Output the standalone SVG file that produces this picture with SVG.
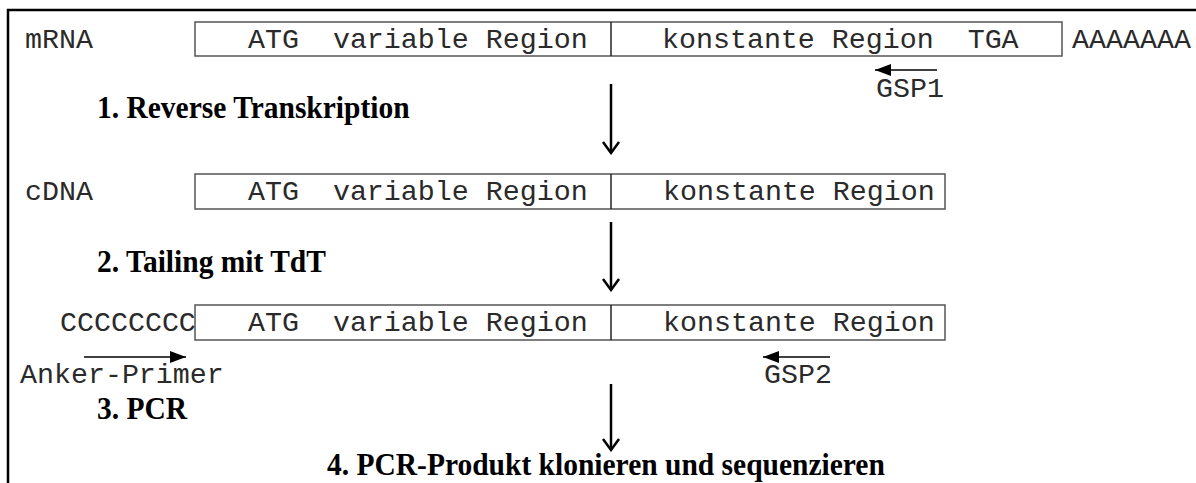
<svg xmlns="http://www.w3.org/2000/svg" width="1196" height="483" viewBox="0 0 1196 483">
  <style>
    .mono { font-family: "Liberation Mono", "Courier New", monospace; font-size: 28.3px; fill: #2a2a2a; }
    .bold { font-family: "Liberation Serif", "Times New Roman", serif; font-size: 29.5px; font-weight: bold; fill: #000; }
    .box { fill: none; stroke: #555; stroke-width: 1.5; }
    .div { stroke: #222; stroke-width: 1.5; }
    .flow { stroke: #000; stroke-width: 2.5; fill: none; }
    .primer { stroke: #000; stroke-width: 1.5; fill: none; }
  </style>
  <defs>
    <marker id="vhead" viewBox="0 0 14 20" refX="12" refY="10" markerUnits="userSpaceOnUse" markerWidth="14" markerHeight="20" orient="auto">
      <path d="M1,2 L12,10 L1,18" fill="none" stroke="#000" stroke-width="2.5"/>
    </marker>
    <marker id="tri" viewBox="0 0 16 12" refX="16" refY="6" markerUnits="userSpaceOnUse" markerWidth="16" markerHeight="12" orient="auto">
      <path d="M0,0 L16,6 L0,12 Z" fill="#000"/>
    </marker>
  </defs>
  <rect width="1196" height="483" fill="#fff"/>
  <g id="frame">
    <line x1="7" y1="10" x2="1196" y2="10" stroke="#000" stroke-width="2.5"/>
    <line x1="8" y1="9" x2="8" y2="483" stroke="#000" stroke-width="2.5"/>
  </g>

  <g id="mrna">
    <text class="mono" x="25" y="48">mRNA</text>
    <rect class="box" x="195" y="22" width="867" height="34"/>
    <line class="div" x1="611" y1="22" x2="611" y2="56"/>
    <text class="mono" x="248" y="48" xml:space="preserve">ATG  variable Region</text>
    <text class="mono" x="662" y="48" xml:space="preserve">konstante Region  TGA</text>
    <text class="mono" x="1072" y="48">AAAAAAA</text>
  </g>
  <g id="gsp1">
    <text class="mono" x="876" y="97">GSP1</text>
  </g>
  <g id="step1">
    <text class="bold" transform="translate(97,118) scale(1,1.08)">1. Reverse Transkription</text>
  </g>

  <g id="cdna">
    <text class="mono" x="25" y="200">cDNA</text>
    <rect class="box" x="195" y="174" width="750" height="35"/>
    <line class="div" x1="611" y1="174" x2="611" y2="209"/>
    <text class="mono" x="248" y="200" xml:space="preserve">ATG  variable Region</text>
    <text class="mono" x="663" y="200">konstante Region</text>
  </g>
  <g id="step2">
    <text class="bold" transform="translate(97,272) scale(1,1.08)">2. Tailing mit TdT</text>
  </g>

  <g id="tailed">
    <text class="mono" x="60" y="331">CCCCCCCC</text>
    <rect class="box" x="195" y="305" width="750" height="35"/>
    <line class="div" x1="611" y1="305" x2="611" y2="340"/>
    <text class="mono" x="248" y="331" xml:space="preserve">ATG  variable Region</text>
    <text class="mono" x="663" y="331">konstante Region</text>
  </g>
  <g id="anker">
    <text class="mono" x="20" y="383">Anker-Primer</text>
  </g>
  <g id="gsp2">
    <text class="mono" x="764" y="383">GSP2</text>
  </g>
  <g id="step3">
    <text class="bold" transform="translate(97,419) scale(1,1.08)">3. PCR</text>
  </g>
  <g id="step4">
    <text class="bold" transform="translate(327,475) scale(1,1.08)">4. PCR-Produkt klonieren und sequenzieren</text>
  </g>

  <g id="connectors">
    <line class="flow" x1="611" y1="84" x2="611" y2="153" marker-end="url(#vhead)"/>
    <line class="flow" x1="611" y1="222" x2="611" y2="290" marker-end="url(#vhead)"/>
    <line class="flow" x1="611" y1="384" x2="611" y2="450" marker-end="url(#vhead)"/>
    <line class="primer" x1="937" y1="70" x2="875" y2="70" marker-end="url(#tri)"/>
    <line class="primer" x1="830" y1="357" x2="763" y2="357" marker-end="url(#tri)"/>
    <line class="primer" x1="84" y1="357" x2="186" y2="357" marker-end="url(#tri)"/>
  </g>
</svg>
